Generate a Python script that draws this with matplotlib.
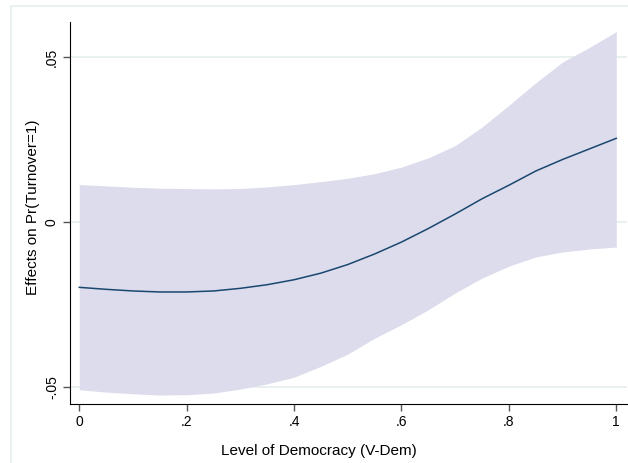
import numpy as np
import matplotlib
matplotlib.use('Agg')
import matplotlib.pyplot as plt
from matplotlib.patches import Rectangle

plt.rcParams['font.family'] = ['Liberation Sans', 'DejaVu Sans']

# marginal effects (step .05)
democracy = [0, .05, .1, .15, .2, .25, .3, .35, .4, .45, .5,
             .55, .6, .65, .7, .75, .8, .85, .9, .95, 1]
effect = [-0.0197, -0.0203, -0.0208, -0.0211, -0.0211, -0.0208, -0.0200, -0.0189, -0.0174, -0.0154, -0.0128,
          -0.0096, -0.0060, -0.0019, 0.0025, 0.0071, 0.0112, 0.0155, 0.0190, 0.0222, 0.0254]
ci_upper = [0.0114, 0.0110, 0.0106, 0.0103, 0.0102, 0.0101, 0.0102, 0.0107, 0.0114, 0.0123, 0.0133,
            0.0147, 0.0167, 0.0195, 0.0232, 0.0288, 0.0354, 0.0422, 0.0485, 0.0529, 0.0577]
ci_lower = [-0.0507, -0.0514, -0.0519, -0.0523, -0.0522, -0.0517, -0.0505, -0.0489, -0.0469, -0.0436, -0.0399,
            -0.0351, -0.0310, -0.0265, -0.0214, -0.0169, -0.0133, -0.0105, -0.0090, -0.0081, -0.0075]

xticks = [0, .2, .4, .6, .8, 1]
xticklabels = ['0', '.2', '.4', '.6', '.8', '1']
yticks = [-0.05, 0, 0.05]
yticklabels = ['-.05', '0', '.05']

W, H = 628, 463
fig = plt.figure(figsize=(W / 100, H / 100), dpi=100)

# stata-like graph region frame
fig.patches.append(Rectangle((10.5 / W, -0.1), 1.2, 1 - 5.5 / H + 0.1, transform=fig.transFigure,
                             fill=False, edgecolor='#e6efef', lw=1.2))

ax = fig.add_axes([70 / W, 1 - 404.3 / H, (627 - 70) / W, (404.3 - 21.7) / H])
ax.fill_between(democracy, ci_lower, ci_upper, color='#dcdcec', lw=0)
ax.plot(democracy, effect, color='#1a476f', lw=1.1)

ax.set_xlim(-0.0173, 1.020)
ax.set_ylim(-0.0551, 0.0607)
for y in yticks:
    ax.axhline(y, color='#e4eeee', lw=1.2, zorder=0)

ax.set_xticks(xticks)
ax.set_xticklabels(xticklabels, fontsize=10)
ax.set_yticks(yticks)
ax.set_yticklabels(yticklabels, fontsize=10, rotation=90, va='center')
ax.tick_params(axis='both', length=5, width=1, color='#555555', pad=3)
ax.spines['top'].set_visible(False)
ax.spines['right'].set_visible(False)
ax.spines['left'].set_color('black')
ax.spines['bottom'].set_color('black')

fig.text(319 / W, 1 - 450.7 / H, 'Level of Democracy (V-Dem)', ha='center', va='center', fontsize=11)
fig.text(33 / W, 1 - 207 / H, 'Effects on Pr(Turnover=1)', ha='center', va='center', fontsize=11, rotation=90)

fig.savefig('out.png', dpi=100)
